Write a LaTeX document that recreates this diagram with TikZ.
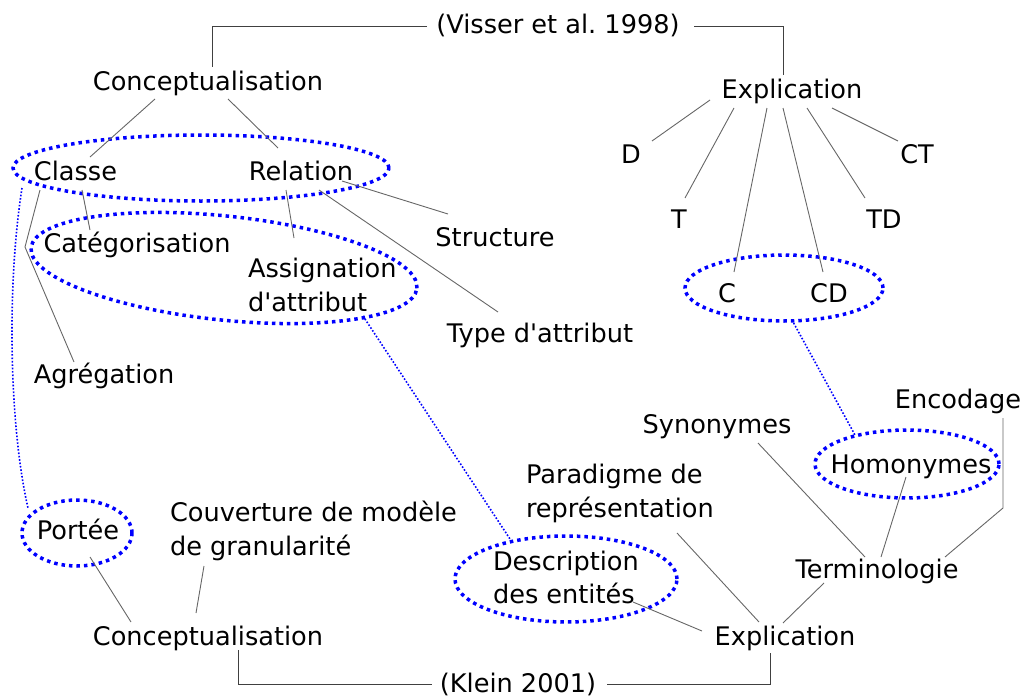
\documentclass[tikz,border=0pt]{standalone}
\usepackage{fontspec}
\setmainfont{DejaVu Sans}
\usetikzlibrary{shapes.geometric}
\definecolor{dotblue}{RGB}{0,0,255}
\begin{document}
\begin{tikzpicture}[x=1pt,y=-1pt,
  lbl/.style={inner sep=0pt, outer sep=0pt, font=\fontsize{25.6}{30}\selectfont, text=black},
  conn/.style={draw=black!60, line width=0.9pt},
  brk/.style={draw=black!75, line width=0.9pt},
  grp/.style={ellipse, draw=dotblue, line width=3.5pt, dash pattern=on 3.5pt off 4pt, inner sep=0pt, outer sep=0pt},
  lnk/.style={draw=dotblue, line width=1.6pt, dash pattern=on 1.6pt off 1.8pt}]
\useasboundingbox (0,0) rectangle (1021,699);

% group ellipses
\node[grp, minimum width=376pt, minimum height=66pt] (E1) at (201,168) {};
\node[grp, minimum width=388pt, minimum height=104pt, rotate=-6] (E2) at (224,268) {};
\node[grp, minimum width=198pt, minimum height=66pt] (E3) at (784,288) {};
\node[grp, minimum width=184pt, minimum height=68pt] (E4) at (907,464) {};
\node[grp, minimum width=222pt, minimum height=86pt] (E5) at (566,579) {};
\node[grp, minimum width=110pt, minimum height=66pt] (E6) at (77,533) {};

% labels
\node[lbl, anchor=base] (visser) at (558,33) {(Visser et al.\ 1998)};
\node[lbl, anchor=base] (con1) at (208,90) {Conceptualisation};
\node[lbl, anchor=base] (cls) at (75.5,180) {Classe};
\node[lbl, anchor=base] (rel) at (301,180) {Relation};
\node[lbl, anchor=base] (cat) at (137,252) {Catégorisation};
\node[lbl, anchor=base west] (asg1) at (248,277) {Assignation};
\node[lbl, anchor=base west] (asg2) at (248,311) {d\textquotesingle attribut};
\node[lbl, anchor=base] (str) at (495,246) {Structure};
\node[lbl, anchor=base] (typ) at (540,342) {Type d\textquotesingle attribut};
\node[lbl, anchor=base] (agr) at (104,383) {Agrégation};
\node[lbl, anchor=base] (por) at (78,539) {Portée};
\node[lbl, anchor=base west] (cov1) at (170,521) {Couverture de modèle};
\node[lbl, anchor=base west] (cov2) at (170,555) {de granularité};
\node[lbl, anchor=base] (con2) at (208,645) {Conceptualisation};
\node[lbl, anchor=base] (klein) at (518,692) {(Klein 2001)};

\node[lbl, anchor=base] (exp1) at (792,98) {Explication};
\node[lbl, anchor=base] (nD) at (631,163) {D};
\node[lbl, anchor=base] (nCT) at (917,163) {CT};
\node[lbl, anchor=base] (nT) at (679,228) {T};
\node[lbl, anchor=base] (nTD) at (884,228) {TD};
\node[lbl, anchor=base] (nC) at (727,302) {C};
\node[lbl, anchor=base] (nCD) at (829,302) {CD};

\node[lbl, anchor=base] (enc) at (958,408) {Encodage};
\node[lbl, anchor=base] (syn) at (717,433) {Synonymes};
\node[lbl, anchor=base] (hom) at (911,473) {Homonymes};
\node[lbl, anchor=base west] (par1) at (526,483) {Paradigme de};
\node[lbl, anchor=base west] (par2) at (526,517) {représentation};
\node[lbl, anchor=base west] (des1) at (493,570) {Description};
\node[lbl, anchor=base west] (des2) at (493,603) {des entités};
\node[lbl, anchor=base] (ter) at (877,578) {Terminologie};
\node[lbl, anchor=base] (exp2) at (785,645) {Explication};

% brackets
\draw[brk] ([shift={(-131,-7)}]visser.base) -| ([shift={(4,-23)}]con1.base);
\draw[brk] ([shift={(136,-7)}]visser.base) -| ([shift={(-9,-23)}]exp1.base);
\draw[brk] ([shift={(30,5)}]con2.base) |- ([shift={(-86,-8)}]klein.base);
\draw[brk] ([shift={(89,-8)}]klein.base) -| ([shift={(-15,8)}]exp2.base);

% top-left tree
\draw[conn] ([shift={(-53,9)}]con1.base) -- ([shift={(14.5,-23)}]cls.base);
\draw[conn] ([shift={(20,9)}]con1.base) -- ([shift={(-23,-32)}]rel.base);
\draw[conn] ([shift={(6.5,10)}]cls.base) -- ([shift={(-47,-22)}]cat.base);
\draw[conn] ([shift={(-35.5,10)}]cls.base) -- ++(-15,57) -- ([shift={(-30,-21)}]agr.base);
\draw[conn] ([shift={(41,1)}]rel.base) -- ([shift={(-47,-32)}]str.base);
\draw[conn] ([shift={(-15,10)}]rel.base) -- ([shift={(46,-39)}]asg1.base west);
\draw[conn] ([shift={(18,10)}]rel.base) -- ([shift={(-42,-30)}]typ.base);

% top-right tree
\draw[conn] ([shift={(-82,2)}]exp1.base) -- ([shift={(21,-22)}]nD.base);
\draw[conn] ([shift={(-58,10)}]exp1.base) -- ([shift={(6,-30)}]nT.base);
\draw[conn] ([shift={(-25,10)}]exp1.base) -- ([shift={(7,-30)}]nC.base);
\draw[conn] ([shift={(-9,10)}]exp1.base) -- ([shift={(-6,-30)}]nCD.base);
\draw[conn] ([shift={(15,10)}]exp1.base) -- ([shift={(-19,-30)}]nTD.base);
\draw[conn] ([shift={(40,10)}]exp1.base) -- ([shift={(-19,-22)}]nCT.base);

% bottom-left tree
\draw[conn] ([shift={(12,18)}]por.base) -- ([shift={(-77,-23)}]con2.base);
\draw[conn] ([shift={(34,11)}]cov2.base west) -- ([shift={(-12,-32)}]con2.base);

% bottom-right tree
\draw[conn] ([shift={(41,10)}]syn.base) -- ([shift={(-12,-21)}]ter.base);
\draw[conn] ([shift={(-5,4)}]hom.base) -- ([shift={(4,-21)}]ter.base);
\draw[conn] ([shift={(45,10)}]enc.base) -- ++(0,90) -- ([shift={(68,-21)}]ter.base);
\draw[conn] ([shift={(151,16)}]par2.base west) -- ([shift={(-26,-23)}]exp2.base);
\draw[conn] ([shift={(140,-1)}]des2.base west) -- ([shift={(-83,-14)}]exp2.base);
\draw[conn] ([shift={(-53,5)}]ter.base) -- ([shift={(-2,-22)}]exp2.base);

% dotted links between groups
\draw[lnk] ([shift={(-179,20)}]E1.center) .. controls +(-16,102) and +(-18,-78) .. ([shift={(-49,-25)}]E6.center);
\draw[lnk] ([shift={(139,48)}]E2.center) -- ([shift={(-56,-40)}]E5.center);
\draw[lnk] ([shift={(8,32)}]E3.center) -- ([shift={(-52,-29)}]E4.center);
\end{tikzpicture}
\end{document}
